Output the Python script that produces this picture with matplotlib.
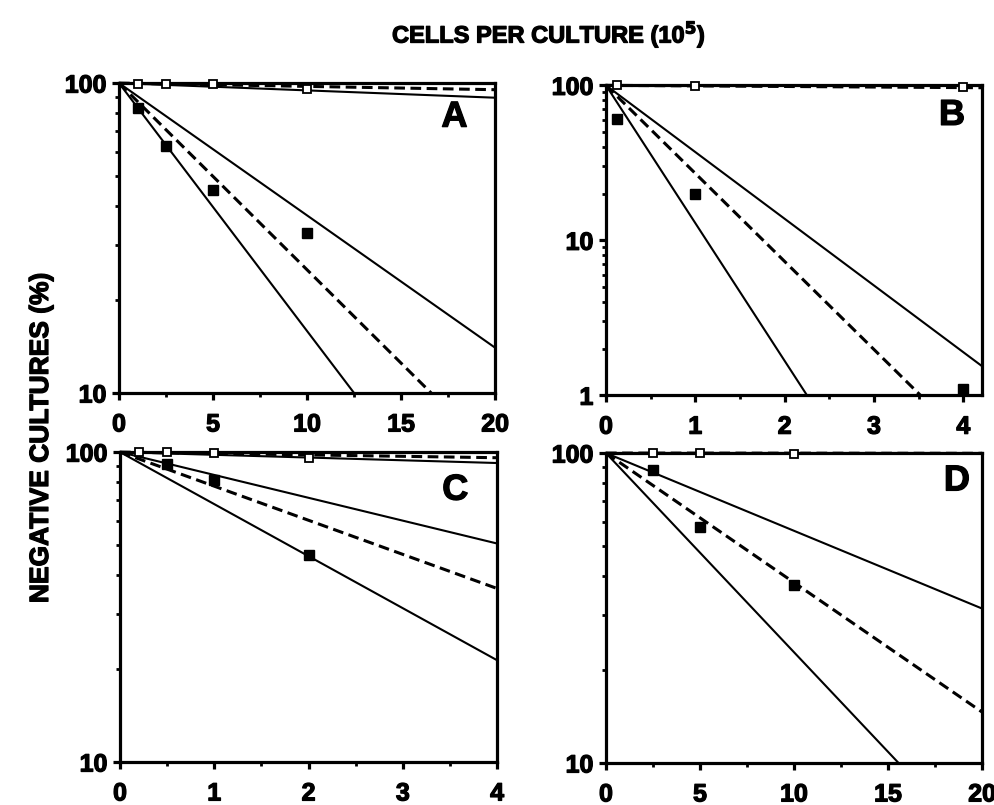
import matplotlib
matplotlib.use("Agg")
import matplotlib.pyplot as plt
import matplotlib.patheffects as pe
from matplotlib.ticker import FixedLocator, FixedFormatter, LogLocator, NullFormatter, MultipleLocator

plt.rcParams['font.family'] = ['Liberation Sans', 'DejaVu Sans']
plt.rcParams['font.weight'] = 'bold'
plt.rcParams['mathtext.default'] = 'bf'

# ---------------- data ----------------
panel_names = ['A', 'B', 'C', 'D']

# open squares (control)
A_open_x = [1, 2.5, 5, 10]
A_open_y = [99.5, 99.5, 99, 95.5]
B_open_x = [0.12, 1, 4]
B_open_y = [100, 99, 97.5]
C_open_x = [0.2, 0.5, 1, 2]
C_open_y = [100, 99.7, 99.3, 95.7]
D_open_x = [2.5, 5, 10]
D_open_y = [100, 100, 99.5]

# filled squares
A_fill_x = [1, 2.5, 5, 10]
A_fill_y = [83, 62.5, 45.3, 32.8]
B_fill_x = [0.12, 1, 4]
B_fill_y = [61, 20, 1.1]
C_fill_x = [0.5, 1, 2]
C_fill_y = [91.7, 81, 46.5]
D_fill_x = [2.5, 5, 10]
D_fill_y = [88.4, 57.7, 37.4]

# fitted lines (start, end): control solid, control dashed, low solid, fit dashed, high solid
A_ctrl_solid = ([0, 20], [100, 89.7])
A_ctrl_dash = ([0, 20], [100, 95.2])
A_lim_steep = ([0, 12.5], [100, 10])
A_fit = ([0, 16.6], [100, 10])
A_lim_shallow = ([0, 20], [100, 14.0])

B_ctrl_solid = ([0, 4.21], [100, 99.3])
B_ctrl_dash = ([0, 4.21], [100, 96.5])
B_lim_steep = ([0, 2.25], [100, 1])
B_fit = ([0, 3.52], [100, 1])
B_lim_shallow = ([0, 4.21], [100, 1.54])

C_ctrl_solid = ([0, 4], [100, 92.2])
C_ctrl_dash = ([0, 4], [100, 95.9])
C_lim_steep = ([0, 4], [100, 21.3])
C_fit = ([0, 4], [100, 36.3])
C_lim_shallow = ([0, 4], [100, 50.7])

D_ctrl_solid = ([0, 20], [100, 100])
D_ctrl_dash = ([0, 20], [100, 99.8])
D_lim_steep = ([0, 15.56], [100, 10])
D_fit = ([0, 20], [100, 14.6])
D_lim_shallow = ([0, 20], [100, 31.5])

xlims = {'A': (0, 20), 'B': (0, 4.21), 'C': (0, 4), 'D': (0, 20)}
ylims = {'A': (10, 100), 'B': (1, 100), 'C': (10, 100), 'D': (10, 100)}
xticks = {'A': [0, 5, 10, 15, 20], 'B': [0, 1, 2, 3, 4], 'C': [0, 1, 2, 3, 4], 'D': [0, 5, 10, 15, 20]}
xminor = {'A': 2.5, 'B': 0.5, 'C': 0.5, 'D': 2.5}
yticks = {'A': [10, 100], 'B': [1, 10, 100], 'C': [10, 100], 'D': [10, 100]}

data = {
    'A': (A_open_x, A_open_y, A_fill_x, A_fill_y, A_ctrl_solid, A_ctrl_dash, A_lim_steep, A_fit, A_lim_shallow),
    'B': (B_open_x, B_open_y, B_fill_x, B_fill_y, B_ctrl_solid, B_ctrl_dash, B_lim_steep, B_fit, B_lim_shallow),
    'C': (C_open_x, C_open_y, C_fill_x, C_fill_y, C_ctrl_solid, C_ctrl_dash, C_lim_steep, C_fit, C_lim_shallow),
    'D': (D_open_x, D_open_y, D_fill_x, D_fill_y, D_ctrl_solid, D_ctrl_dash, D_lim_steep, D_fit, D_lim_shallow),
}

positions = {
    'A': [0.1196, 0.5118, 0.378, 0.385],
    'B': [0.609, 0.509, 0.378, 0.385],
    'C': [0.1206, 0.0534, 0.379, 0.385],
    'D': [0.609, 0.0522, 0.378, 0.385],
}
label_pos = {'A': (0.892, 0.89), 'B': (0.92, 0.903), 'C': (0.889, 0.877), 'D': (0.933, 0.91)}

heavy = [pe.withStroke(linewidth=0.9, foreground='black')]

fig = plt.figure(figsize=(9.95, 8.05), dpi=100)

for name in panel_names:
    ox, oy, fx, fy, cs, cd, ls, fit, lsh = data[name]
    ax = fig.add_axes(positions[name])
    ax.set_yscale('log')
    ax.set_xlim(*xlims[name])
    ax.set_ylim(*ylims[name])

    lw = 1.5
    dash = (0, (3.5, 1.8))
    ax.plot(*cs, color='black', lw=lw, clip_on=False, zorder=3)
    ax.plot(*cd, color='black', lw=2.2, ls=dash, clip_on=False, zorder=3)
    ax.plot(*ls, color='black', lw=lw, zorder=3)
    ax.plot(*fit, color='black', lw=2.2, ls=dash, zorder=3)
    ax.plot(*lsh, color='black', lw=lw, zorder=3)

    ax.plot(fx, fy, ls='none', marker='s', ms=7.2, mfc='black', mec='black', zorder=5, clip_on=False)
    ax.plot(ox, oy, ls='none', marker='s', ms=5.2, mfc='white', mec='black', mew=1.3, zorder=6, clip_on=False)

    for sp in ax.spines.values():
        sp.set_linewidth(2.3)

    ax.xaxis.set_major_locator(FixedLocator(xticks[name]))
    ax.xaxis.set_minor_locator(MultipleLocator(xminor[name]))
    ax.yaxis.set_major_locator(FixedLocator(yticks[name]))
    ax.yaxis.set_major_formatter(FixedFormatter([str(v) for v in yticks[name]]))
    ax.yaxis.set_minor_locator(LogLocator(base=10, subs=range(2, 10)))
    ax.yaxis.set_minor_formatter(NullFormatter())
    ax.tick_params(axis='x', which='major', direction='out', length=5, width=2.3,
                   labelsize=18, pad=9)
    ax.tick_params(axis='y', which='major', direction='out', length=5, width=2.3,
                   labelsize=18, pad=4)
    ax.tick_params(axis='both', which='minor', direction='out', length=3, width=2.0)
    for lab in ax.get_xticklabels() + ax.get_yticklabels():
        lab.set_fontweight('bold')
        lab.set_path_effects(heavy)

    lx, ly = label_pos[name]
    ax.text(lx, ly, name, transform=ax.transAxes, fontsize=26, fontweight='bold',
            ha='center', va='center', path_effects=heavy)

fig.text(549 / 995, 1 - 34 / 805, 'CELLS PER CULTURE (10$^{5}$)', ha='center', va='center',
         fontsize=17, fontweight='bold', path_effects=heavy)
fig.text(41 / 995, 1 - 438 / 805, 'NEGATIVE CULTURES (%)', ha='center', va='center', rotation=90,
         fontsize=19, fontweight='bold', path_effects=heavy)

fig.savefig('out.png', dpi=100)
